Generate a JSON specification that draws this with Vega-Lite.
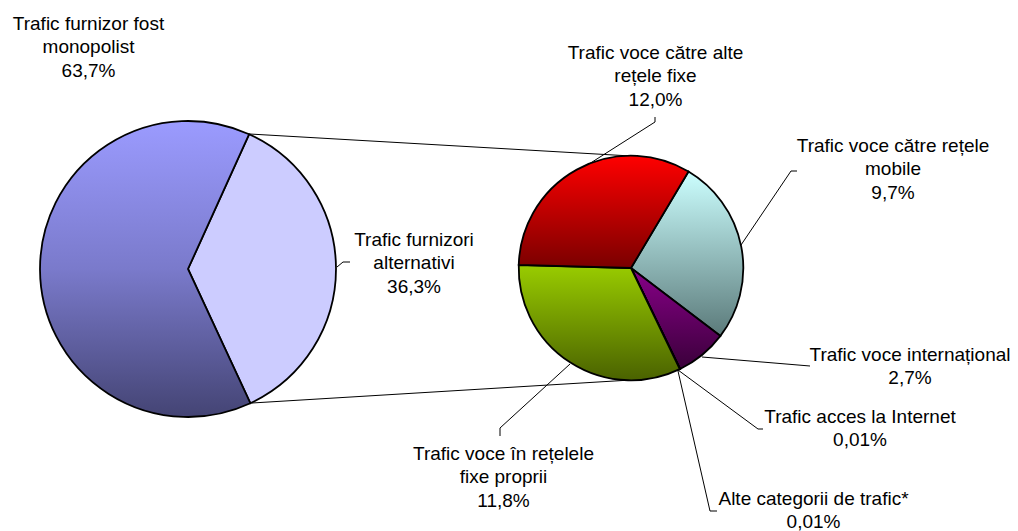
{
  "$schema": "https://vega.github.io/schema/vega-lite/v6.json",
  "width": 1018,
  "height": 531,
  "padding": 0,
  "autosize": {"type": "none"},
  "background": "white",
  "config": {"view": {"stroke": null}},
  "data": {
    "values": [
      {"group": "Total", "name": "Trafic furnizori alternativi", "value": 36.3, "label": "Trafic furnizori\nalternativi\n36,3%"},
      {"group": "Total", "name": "Trafic furnizor fost monopolist", "value": 63.7, "label": "Trafic furnizor fost\nmonopolist\n63,7%"},
      {"group": "Furnizori alternativi", "name": "Trafic voce către rețele mobile", "value": 9.7, "label": "Trafic voce către rețele\nmobile\n9,7%"},
      {"group": "Furnizori alternativi", "name": "Trafic voce internațional", "value": 2.7, "label": "Trafic voce internațional\n2,7%"},
      {"group": "Furnizori alternativi", "name": "Trafic acces la Internet", "value": 0.01, "label": "Trafic acces la Internet\n0,01%"},
      {"group": "Furnizori alternativi", "name": "Alte categorii de trafic*", "value": 0.01, "label": "Alte categorii de trafic*\n0,01%"},
      {"group": "Furnizori alternativi", "name": "Trafic voce în rețelele fixe proprii", "value": 11.8, "label": "Trafic voce în rețelele\nfixe proprii\n11,8%"},
      {"group": "Furnizori alternativi", "name": "Trafic voce către alte rețele fixe", "value": 12.0, "label": "Trafic voce către alte\nrețele fixe\n12,0%"}
    ]
  },
  "encoding": {
    "x": {"field": "group", "type": "nominal", "axis": null, "scale": {"type": "point", "domain": ["Total", "Furnizori alternativi"], "range": [188, 631], "padding": 0}},
    "y": {"field": "group", "type": "nominal", "axis": null, "scale": {"type": "point", "domain": ["Total", "Furnizori alternativi"], "range": [269, 268], "padding": 0}}
  },
  "resolve": {"scale": {"theta": "independent"}},
  "layer": [
    {"transform": [{"filter": {"field": "name", "equal": "Trafic furnizori alternativi"}}],
     "mark": {"type": "rule", "color": "black", "strokeWidth": 1, "xOffset": 61.5, "yOffset": -135, "x2Offset": 0, "y2Offset": -112},
     "encoding": {"x2": {"datum": "Furnizori alternativi"}, "y2": {"datum": "Furnizori alternativi"}}},
    {"transform": [{"filter": {"field": "name", "equal": "Trafic furnizori alternativi"}}],
     "mark": {"type": "rule", "color": "black", "strokeWidth": 1, "xOffset": 64, "yOffset": 134, "x2Offset": 0, "y2Offset": 112},
     "encoding": {"x2": {"datum": "Furnizori alternativi"}, "y2": {"datum": "Furnizori alternativi"}}},
    {"transform": [{"filter": {"field": "name", "equal": "Trafic furnizori alternativi"}}],
     "mark": {"type": "rule", "color": "black", "strokeWidth": 1, "xOffset": 149, "yOffset": -2, "x2Offset": 155, "y2Offset": -7},
     "encoding": {"x2": {"field": "group"}, "y2": {"field": "group"}}},
    {"transform": [{"filter": {"field": "name", "equal": "Trafic furnizori alternativi"}}],
     "mark": {"type": "rule", "color": "black", "strokeWidth": 1, "xOffset": 155, "yOffset": -7, "x2Offset": 162, "y2Offset": -7},
     "encoding": {"x2": {"field": "group"}, "y2": {"field": "group"}}},
    {"transform": [{"filter": {"field": "name", "equal": "Trafic voce către alte rețele fixe"}}],
     "mark": {"type": "rule", "color": "black", "strokeWidth": 1, "xOffset": -42, "yOffset": -104, "x2Offset": 24, "y2Offset": -146},
     "encoding": {"x2": {"field": "group"}, "y2": {"field": "group"}}},
    {"transform": [{"filter": {"field": "name", "equal": "Trafic voce către alte rețele fixe"}}],
     "mark": {"type": "rule", "color": "black", "strokeWidth": 1, "xOffset": 24, "yOffset": -146, "x2Offset": 24, "y2Offset": -151},
     "encoding": {"x2": {"field": "group"}, "y2": {"field": "group"}}},
    {"transform": [{"filter": {"field": "name", "equal": "Trafic voce către rețele mobile"}}],
     "mark": {"type": "rule", "color": "black", "strokeWidth": 1, "xOffset": 110, "yOffset": -23, "x2Offset": 160, "y2Offset": -97},
     "encoding": {"x2": {"field": "group"}, "y2": {"field": "group"}}},
    {"transform": [{"filter": {"field": "name", "equal": "Trafic voce către rețele mobile"}}],
     "mark": {"type": "rule", "color": "black", "strokeWidth": 1, "xOffset": 160, "yOffset": -97, "x2Offset": 166, "y2Offset": -97},
     "encoding": {"x2": {"field": "group"}, "y2": {"field": "group"}}},
    {"transform": [{"filter": {"field": "name", "equal": "Trafic voce internațional"}}],
     "mark": {"type": "rule", "color": "black", "strokeWidth": 1, "xOffset": 71, "yOffset": 89, "x2Offset": 179, "y2Offset": 98},
     "encoding": {"x2": {"field": "group"}, "y2": {"field": "group"}}},
    {"transform": [{"filter": {"field": "name", "equal": "Trafic acces la Internet"}}],
     "mark": {"type": "rule", "color": "black", "strokeWidth": 1, "xOffset": 47, "yOffset": 102, "x2Offset": 127, "y2Offset": 161},
     "encoding": {"x2": {"field": "group"}, "y2": {"field": "group"}}},
    {"transform": [{"filter": {"field": "name", "equal": "Trafic acces la Internet"}}],
     "mark": {"type": "rule", "color": "black", "strokeWidth": 1, "xOffset": 127, "yOffset": 161, "x2Offset": 132, "y2Offset": 161},
     "encoding": {"x2": {"field": "group"}, "y2": {"field": "group"}}},
    {"transform": [{"filter": {"field": "name", "equal": "Alte categorii de trafic*"}}],
     "mark": {"type": "rule", "color": "black", "strokeWidth": 1, "xOffset": 47, "yOffset": 103, "x2Offset": 79, "y2Offset": 243},
     "encoding": {"x2": {"field": "group"}, "y2": {"field": "group"}}},
    {"transform": [{"filter": {"field": "name", "equal": "Alte categorii de trafic*"}}],
     "mark": {"type": "rule", "color": "black", "strokeWidth": 1, "xOffset": 79, "yOffset": 243, "x2Offset": 86, "y2Offset": 243},
     "encoding": {"x2": {"field": "group"}, "y2": {"field": "group"}}},
    {"transform": [{"filter": {"field": "name", "equal": "Trafic voce în rețelele fixe proprii"}}],
     "mark": {"type": "rule", "color": "black", "strokeWidth": 1, "xOffset": -61, "yOffset": 96, "x2Offset": -131, "y2Offset": 160},
     "encoding": {"x2": {"field": "group"}, "y2": {"field": "group"}}},
    {"transform": [{"filter": {"field": "name", "equal": "Trafic voce în rețelele fixe proprii"}}],
     "mark": {"type": "rule", "color": "black", "strokeWidth": 1, "xOffset": -131, "yOffset": 160, "x2Offset": -131, "y2Offset": 168},
     "encoding": {"x2": {"field": "group"}, "y2": {"field": "group"}}},
    {"transform": [{"filter": {"field": "group", "equal": "Total"}}],
     "mark": {"type": "arc", "outerRadius": 148, "stroke": "black", "strokeWidth": 1.8},
     "encoding": {
       "theta": {"field": "value", "type": "quantitative", "stack": true, "scale": {"range": [0.4259, 6.7091]}},
       "fill": {
         "condition": [
           {"test": "datum.name === 'Trafic furnizor fost monopolist'", "value": {"gradient": "linear", "x1": 0, "y1": 0, "x2": 0, "y2": 1, "stops": [{"offset": 0, "color": "#9b9bff"}, {"offset": 0.5, "color": "#7a7acb"}, {"offset": 1, "color": "#444474"}]}}
         ],
         "value": "#ccccff"
       }
     }},
    {"transform": [{"filter": {"field": "group", "equal": "Furnizori alternativi"}}],
     "mark": {"type": "arc", "outerRadius": 112.3, "stroke": "black", "strokeWidth": 1.8},
     "encoding": {
       "theta": {"field": "value", "type": "quantitative", "stack": true, "scale": {"range": [0.5376, 6.8208]}},
       "fill": {
         "condition": [
           {"test": "datum.name === 'Trafic voce către rețele mobile'", "value": {"gradient": "linear", "x1": 0, "y1": 0, "x2": 0, "y2": 1, "stops": [{"offset": 0, "color": "#ccffff"}, {"offset": 1, "color": "#5b7a7a"}]}},
           {"test": "datum.name === 'Trafic voce internațional'", "value": {"gradient": "linear", "x1": 0, "y1": 0, "x2": 0, "y2": 1, "stops": [{"offset": 0, "color": "#880088"}, {"offset": 1, "color": "#3a003a"}]}},
           {"test": "datum.name === 'Trafic voce în rețelele fixe proprii'", "value": {"gradient": "linear", "x1": 0, "y1": 0, "x2": 0, "y2": 1, "stops": [{"offset": 0, "color": "#99cc00"}, {"offset": 1, "color": "#4a6200"}]}},
           {"test": "datum.name === 'Trafic voce către alte rețele fixe'", "value": {"gradient": "linear", "x1": 0, "y1": 0, "x2": 0, "y2": 1, "stops": [{"offset": 0, "color": "#ff0000"}, {"offset": 1, "color": "#7a0000"}]}}
         ],
         "value": "#3366cc"
       }
     }},
    {"transform": [{"filter": {"field": "name", "equal": "Trafic furnizor fost monopolist"}}],
     "mark": {"type": "text", "align": "center", "baseline": "alphabetic", "dx": -99.5, "dy": -239, "font": "Liberation Sans", "fontSize": 19, "lineBreak": "\n", "lineHeight": 23.3, "color": "black"},
     "encoding": {"text": {"field": "label"}}},
    {"transform": [{"filter": {"field": "name", "equal": "Trafic furnizori alternativi"}}],
     "mark": {"type": "text", "align": "center", "baseline": "alphabetic", "dx": 226, "dy": -23, "font": "Liberation Sans", "fontSize": 19, "lineBreak": "\n", "lineHeight": 23.3, "color": "black"},
     "encoding": {"text": {"field": "label"}}},
    {"transform": [{"filter": {"field": "name", "equal": "Trafic voce către alte rețele fixe"}}],
     "mark": {"type": "text", "align": "center", "baseline": "alphabetic", "dx": 24.5, "dy": -209, "font": "Liberation Sans", "fontSize": 19, "lineBreak": "\n", "lineHeight": 23.3, "color": "black"},
     "encoding": {"text": {"field": "label"}}},
    {"transform": [{"filter": {"field": "name", "equal": "Trafic voce către rețele mobile"}}],
     "mark": {"type": "text", "align": "center", "baseline": "alphabetic", "dx": 262, "dy": -116, "font": "Liberation Sans", "fontSize": 19, "lineBreak": "\n", "lineHeight": 23.3, "color": "black"},
     "encoding": {"text": {"field": "label"}}},
    {"transform": [{"filter": {"field": "name", "equal": "Trafic voce internațional"}}],
     "mark": {"type": "text", "align": "center", "baseline": "alphabetic", "dx": 279, "dy": 93, "font": "Liberation Sans", "fontSize": 19, "lineBreak": "\n", "lineHeight": 23.3, "color": "black"},
     "encoding": {"text": {"field": "label"}}},
    {"transform": [{"filter": {"field": "name", "equal": "Trafic acces la Internet"}}],
     "mark": {"type": "text", "align": "center", "baseline": "alphabetic", "dx": 229, "dy": 155, "font": "Liberation Sans", "fontSize": 19, "lineBreak": "\n", "lineHeight": 23.3, "color": "black"},
     "encoding": {"text": {"field": "label"}}},
    {"transform": [{"filter": {"field": "name", "equal": "Alte categorii de trafic*"}}],
     "mark": {"type": "text", "align": "center", "baseline": "alphabetic", "dx": 182.5, "dy": 237, "font": "Liberation Sans", "fontSize": 19, "lineBreak": "\n", "lineHeight": 23.3, "color": "black"},
     "encoding": {"text": {"field": "label"}}},
    {"transform": [{"filter": {"field": "name", "equal": "Trafic voce în rețelele fixe proprii"}}],
     "mark": {"type": "text", "align": "center", "baseline": "alphabetic", "dx": -127.5, "dy": 192, "font": "Liberation Sans", "fontSize": 19, "lineBreak": "\n", "lineHeight": 23.3, "color": "black"},
     "encoding": {"text": {"field": "label"}}}
  ]
}
